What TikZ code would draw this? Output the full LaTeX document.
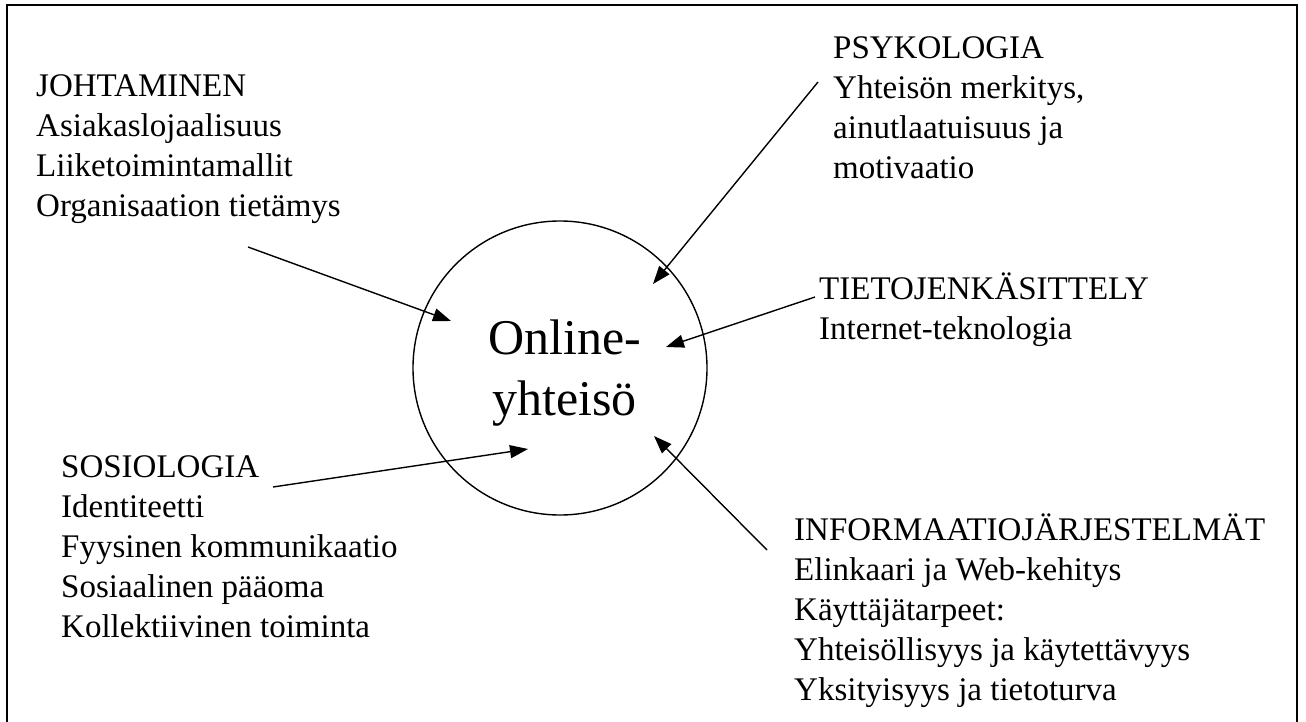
\documentclass[tikz,border=0pt]{standalone}
\usepackage{fontspec}
\setmainfont{Liberation Serif}
\usetikzlibrary{arrows.meta}
% left-aligned block of lines; its baseline is that of the first line
\newcommand\leftlines[1]{\vtop{\halign{##\hfil\cr#1\crcr}}}
\newcommand\centerlines[1]{\vtop{\halign{\hfil##\hfil\cr#1\crcr}}}
\tikzset{
  x=1pt, y=-1pt,
  frame/.style={line width=1.8pt},
  topic/.style={font=\fontsize{33}{40}\selectfont, inner sep=0pt, anchor=base west},
  hub/.style={draw, circle, line width=1.4pt, minimum size=294pt, inner sep=0pt},
  hubtext/.style={font=\fontsize{50}{61}\selectfont, inner sep=0pt, anchor=base},
  arr/.style={line width=1.4pt, -{Triangle[length=18pt,width=13pt]}},
}
\begin{document}
\begin{tikzpicture}
\useasboundingbox (0,0) rectangle (1306,722);
\fill[white] (0,0) rectangle (1306,722);

% outer frame (open at the bottom)
\draw[frame] (7,724) -- (7,5) -- (1297,5) -- (1297,724);

% central concept
\node[hub] (yhteiso) at (560,368) {};
\node[hubtext] (otsikko) at (564.5,354) {\centerlines{Online-\cr yhteisö}};

% surrounding disciplines
\node[topic] (johtaminen) at (36,97)
  {\leftlines{JOHTAMINEN\cr Asiakaslojaalisuus\cr Liiketoimintamallit\cr Organisaation tietämys}};
\node[topic] (psykologia) at (833,59)
  {\leftlines{PSYKOLOGIA\cr Yhteisön merkitys,\cr ainutlaatuisuus ja\cr motivaatio}};
\node[topic] (tieto) at (819,299)
  {\leftlines{TIETOJENKÄSITTELY\cr Internet-teknologia}};
\node[topic] (sosiologia) at (61,477)
  {\leftlines{SOSIOLOGIA\cr Identiteetti\cr Fyysinen kommunikaatio\cr Sosiaalinen pääoma\cr Kollektiivinen toiminta}};
\node[topic] (info) at (794,540)
  {\leftlines{INFORMAATIOJÄRJESTELMÄT\cr Elinkaari ja Web-kehitys\cr Käyttäjätarpeet:\cr Yhteisöllisyys ja käytettävyys\cr Yksityisyys ja tietoturva}};

% arrow ends
\coordinate (jA) at (248,247);  \coordinate (jB) at (451,321);
\coordinate (pA) at (818,82);   \coordinate (pB) at (653,284);
\coordinate (tA) at (815,297);  \coordinate (tB) at (666,347);
\coordinate (sA) at (273,487);  \coordinate (sB) at (528,449);
\coordinate (iA) at (767,550);  \coordinate (iB) at (654,436);

\draw[arr] (jA) -- (jB);
\draw[arr] (pA) -- (pB);
\draw[arr] (tA) -- (tB);
\draw[arr] (sA) -- (sB);
\draw[arr] (iA) -- (iB);
\end{tikzpicture}
\end{document}
